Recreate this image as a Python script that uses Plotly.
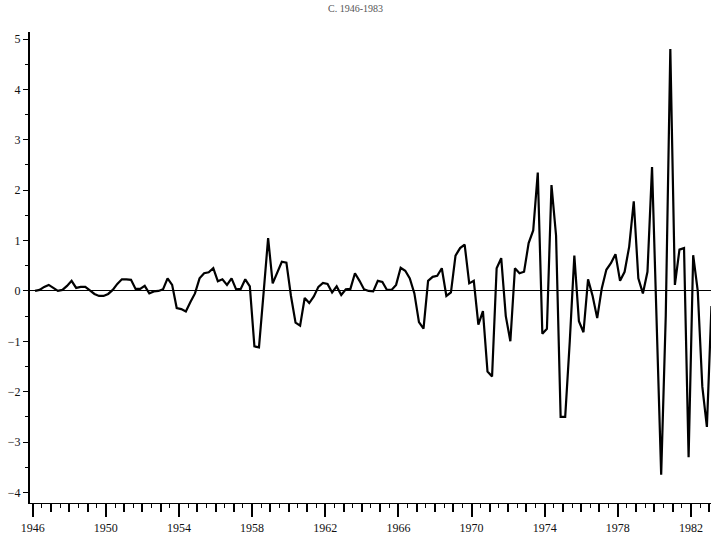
import plotly.graph_objects as go

# Quarterly values, one row per year (Q1..Q4); 1983 has only Q1
years = list(range(1946, 1984))
values_by_year = [
    [0.00, 0.02, 0.08, 0.12],     # 1946
    [0.06, 0.00, 0.02, 0.10],     # 1947
    [0.20, 0.06, 0.08, 0.08],     # 1948
    [0.01, -0.06, -0.10, -0.10],  # 1949
    [-0.06, 0.02, 0.14, 0.23],    # 1950
    [0.23, 0.22, 0.04, 0.04],     # 1951
    [0.10, -0.05, -0.01, 0.00],   # 1952
    [0.03, 0.25, 0.12, -0.34],    # 1953
    [-0.36, -0.41, -0.22, -0.05], # 1954
    [0.25, 0.35, 0.37, 0.45],     # 1955
    [0.19, 0.23, 0.12, 0.25],     # 1956
    [0.03, 0.04, 0.23, 0.09],     # 1957
    [-1.10, -1.12, -0.05, 1.05],  # 1958
    [0.15, 0.38, 0.58, 0.56],     # 1959
    [-0.10, -0.63, -0.69, -0.14], # 1960
    [-0.24, -0.11, 0.08, 0.16],   # 1961
    [0.14, -0.03, 0.09, -0.08],   # 1962
    [0.03, 0.04, 0.35, 0.20],     # 1963
    [0.03, 0.00, -0.01, 0.20],    # 1964
    [0.18, 0.02, 0.02, 0.12],     # 1965
    [0.46, 0.40, 0.25, -0.05],    # 1966
    [-0.62, -0.75, 0.20, 0.28],   # 1967
    [0.30, 0.45, -0.10, -0.03],   # 1968
    [0.70, 0.85, 0.92, 0.15],     # 1969
    [0.20, -0.67, -0.40, -1.60],  # 1970
    [-1.70, 0.45, 0.65, -0.50],   # 1971
    [-1.00, 0.45, 0.35, 0.38],    # 1972
    [0.95, 1.20, 2.35, -0.85],    # 1973
    [-0.75, 2.10, 1.10, -2.50],   # 1974
    [-2.50, -1.00, 0.70, -0.60],  # 1975
    [-0.82, 0.23, -0.10, -0.54],  # 1976
    [0.05, 0.42, 0.55, 0.73],     # 1977
    [0.20, 0.38, 0.88, 1.78],     # 1978
    [0.25, -0.05, 0.38, 2.46],    # 1979
    [-0.50, -3.65, -0.50, 4.80],  # 1980
    [0.12, 0.82, 0.85, -3.30],    # 1981
    [0.71, 0.00, -1.90, -2.70],   # 1982
    [-0.30],                      # 1983
]

x_tick_vals = [1946, 1950, 1954, 1958, 1962, 1966, 1970, 1974, 1978, 1982]
x_tick_text = [str(v) for v in x_tick_vals]
y_tick_vals = [-4, -3, -2, -1, 0, 1, 2, 3, 4, 5]

title_text = "C. 1946-1983"

xs, ys = [], []
for yr, row in zip(years, values_by_year):
    for q, v in enumerate(row):
        xs.append(yr + (q + 0.5) / 4)
        ys.append(v)

XR = [1945.85, 1983.1]
YR = [-4.21, 5.14]
FONT = "Liberation Serif, Times New Roman, serif"

fig = go.Figure()
fig.add_trace(go.Scatter(x=xs, y=ys, mode="lines",
                         line=dict(color="black", width=2.2),
                         hoverinfo="skip", showlegend=False))
# invisible trace to hold the secondary (yearly tick) axis
fig.add_trace(go.Scatter(x=[XR[0]], y=[0], xaxis="x2", mode="markers",
                         marker=dict(opacity=0), showlegend=False, hoverinfo="skip"))

fig.update_layout(
    width=711, height=538,
    margin=dict(l=30, r=0, t=32, b=35),
    paper_bgcolor="white", plot_bgcolor="white",
    font=dict(family=FONT, size=12, color="#111"),
    title=dict(text=title_text, x=0.5, xanchor="center", y=0.99, yanchor="top",
               font=dict(family=FONT, size=10, color="#555")),
    xaxis=dict(range=XR, tickmode="array", tickvals=x_tick_vals, ticktext=x_tick_text,
               ticks="outside", ticklen=13, tickwidth=1.5, tickcolor="black",
               showline=True, linecolor="black", linewidth=1.2,
               showgrid=False, zeroline=False,
               minor=dict(tick0=1946, dtick=0.5, ticks="outside", ticklen=4,
                          tickwidth=1.3, tickcolor="black", showgrid=False),
               tickfont=dict(family=FONT, size=12, color="#111")),
    xaxis2=dict(range=XR, overlaying="x", anchor="y", side="bottom",
                tick0=1946, dtick=1, ticks="outside", ticklen=8, tickwidth=1.5,
                tickcolor="black", showticklabels=False, showgrid=False,
                zeroline=False, showline=False),
    yaxis=dict(range=YR, tickmode="array", tickvals=y_tick_vals,
               ticks="outside", ticklen=5, tickwidth=1.3, tickcolor="black",
               showline=True, linecolor="black", linewidth=2,
               showgrid=False, zeroline=True, zerolinecolor="black", zerolinewidth=1.3,
               minor=dict(dtick=0.5, ticks="outside", ticklen=3, tickwidth=1,
                          tickcolor="black", showgrid=False),
               tickfont=dict(family=FONT, size=12, color="#111")),
)

fig.write_html("out.html")
